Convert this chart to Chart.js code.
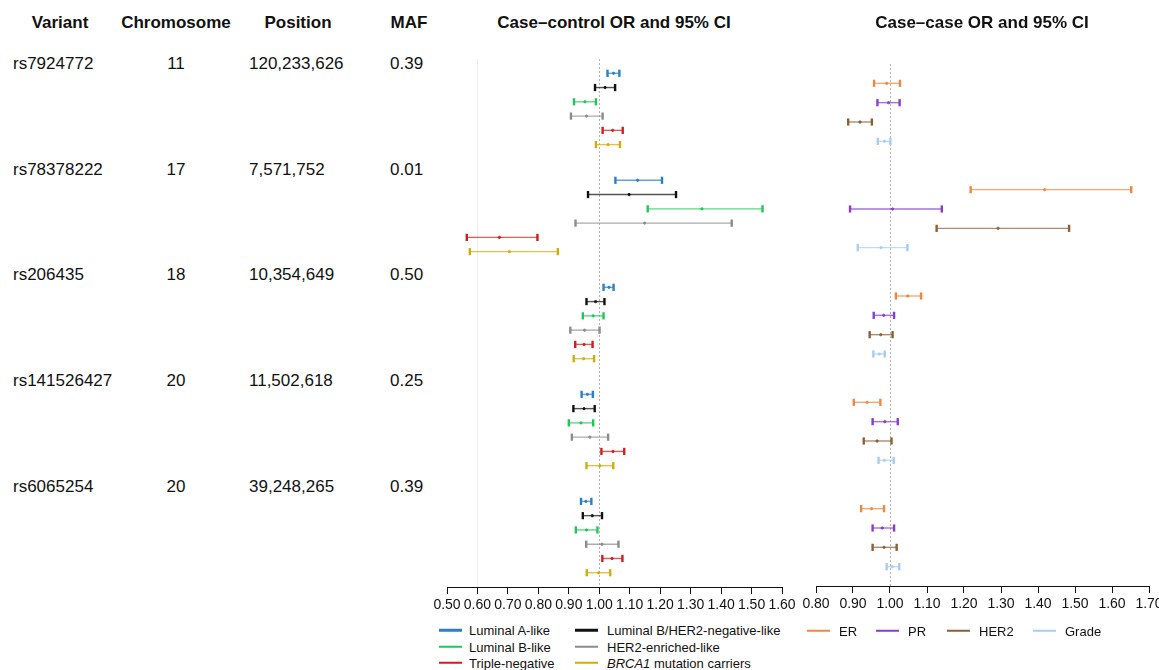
<!DOCTYPE html>
<html><head><meta charset="utf-8">
<script src="https://cdn.jsdelivr.net/npm/chart.js@4.4.1/dist/chart.umd.min.js"></script>
<style>
html,body{margin:0;padding:0;background:#fff;overflow:hidden;}
#root{position:relative;width:1159px;height:670px;overflow:hidden;font-family:"Liberation Sans",Arial,Helvetica,sans-serif;color:#111;}
.t{position:absolute;white-space:nowrap;line-height:1;}
.hd{font-weight:bold;font-size:17px;transform:translate(-50%,-50%);}
.cell{font-size:17px;transform:translateY(-50%);}
.cen{transform:translate(-50%,-50%);}
canvas{position:absolute;}
.lgline{position:absolute;height:2.5px;width:23px;transform:translateY(-50%);}
.lgtext{font-size:13px;transform:translateY(-50%);}
</style></head>
<body><div id="root">
<canvas id="cc" width="375" height="578" style="left:427px;top:39px;width:375px;height:578px;"></canvas>
<canvas id="cs" width="373" height="572" style="left:796px;top:44px;width:373px;height:572px;"></canvas>
</div>
<script>
// ---------- table data ----------
const variants = ['rs7924772','rs78378222','rs206435','rs141526427','rs6065254'];
const chromosomes = ['11','17','18','20','20'];
const positions = ['120,233,626','7,571,752','10,354,649','11,502,618','39,248,265'];
const mafs = ['0.39','0.01','0.50','0.25','0.39'];
const tableHeaders = ['Variant','Chromosome','Position','MAF'];
const panelTitles = ['Case\u2013control OR and 95% CI','Case\u2013case OR and 95% CI'];

// ---------- case-control series (per variant: lower CI, OR, upper CI) ----------
const ccNames = ['Luminal A-like','Luminal B/HER2-negative-like','Luminal B-like','HER2-enriched-like','Triple-negative','BRCA1 mutation carriers'];
const lumA_LO = [1.027,1.053,1.014,0.942,0.940];
const lumA_OR = [1.047,1.126,1.032,0.961,0.956];
const lumA_HI = [1.066,1.206,1.047,0.979,0.974];
const lumBneg_LO = [0.986,0.963,0.958,0.915,0.946];
const lumBneg_OR = [1.019,1.098,0.988,0.950,0.977];
const lumBneg_HI = [1.052,1.252,1.017,0.985,1.009];
const lumB_LO = [0.917,1.159,0.946,0.900,0.923];
const lumB_OR = [0.953,1.337,0.980,0.940,0.958];
const lumB_HI = [0.989,1.536,1.014,0.980,0.994];
const her2e_LO = [0.907,0.922,0.905,0.910,0.957];
const her2e_OR = [0.958,1.149,0.952,0.969,1.009];
const her2e_HI = [1.011,1.435,1.001,1.029,1.063];
const tn_LO = [1.011,0.565,0.921,1.007,1.010];
const tn_OR = [1.044,0.672,0.950,1.045,1.042];
const tn_HI = [1.077,0.797,0.978,1.082,1.076];
const brca1_LO = [0.989,0.575,0.916,0.958,0.959];
const brca1_OR = [1.029,0.705,0.949,1.002,0.998];
const brca1_HI = [1.068,0.864,0.983,1.046,1.036];

// ---------- case-case series ----------
const csNames = ['ER','PR','HER2','Grade'];
const er_LO = [0.957,1.218,1.016,0.902,0.922];
const er_OR = [0.991,1.418,1.048,0.938,0.950];
const er_HI = [1.027,1.652,1.084,0.974,0.984];
const pr_LO = [0.966,0.892,0.956,0.953,0.953];
const pr_OR = [0.996,1.007,0.983,0.986,0.979];
const pr_HI = [1.026,1.140,1.011,1.021,1.011];
const her2_LO = [0.887,1.126,0.945,0.929,0.953];
const her2_OR = [0.919,1.292,0.975,0.965,0.984];
const her2_HI = [0.951,1.484,1.007,1.004,1.018];
const grade_LO = [0.967,0.913,0.955,0.969,0.991];
const grade_OR = [0.985,0.976,0.971,0.985,1.006];
const grade_HI = [1.001,1.047,0.986,1.010,1.025];

// ---------- axis ticks ----------
const ccTicks = [0.5,0.6,0.7,0.8,0.9,1.0,1.1,1.2,1.3,1.4,1.5,1.6];
const csTicks = [0.8,0.9,1.0,1.1,1.2,1.3,1.4,1.5,1.6,1.7];

// ---------- styles ----------
const ccColors = [[40,128,200],[17,17,17],[30,200,85],[140,140,140],[208,30,30],[212,172,10]];
const csColors = [[240,135,65],[135,60,210],[140,95,55],[165,205,245]];
const FONT = '"Liberation Sans", Arial, Helvetica, sans-serif';

const ccSeries = [[lumA_LO,lumA_OR,lumA_HI],[lumBneg_LO,lumBneg_OR,lumBneg_HI],[lumB_LO,lumB_OR,lumB_HI],[her2e_LO,her2e_OR,her2e_HI],[tn_LO,tn_OR,tn_HI],[brca1_LO,brca1_OR,brca1_HI]];
const csSeries = [[er_LO,er_OR,er_HI],[pr_LO,pr_OR,pr_HI],[her2_LO,her2_OR,her2_HI],[grade_LO,grade_OR,grade_HI]];

const rgba = (c,a) => `rgba(${c[0]},${c[1]},${c[2]},${a})`;

function buildData(s, idx, step){
  const pts = [];
  for (let v = 0; v < variants.length; v++){
    const y = v*step + idx;
    pts.push({x:s[0][v], y}, {x:s[1][v], y}, {x:s[2][v], y});
  }
  return pts;
}

function makeDatasets(series, names, colors, step){
  return series.map((s,i) => ({
    label: names[i],
    data: buildData(s, i, step),
    showLine: true,
    borderColor: rgba(colors[i], 0.72),
    borderWidth: 1.4,
    segment: { borderColor: ctx => (ctx.p0DataIndex % 3 === 2) ? 'rgba(0,0,0,0)' : undefined },
    pointStyle: ctx => (ctx.dataIndex % 3 === 1) ? 'circle' : 'line',
    pointRotation: 90,
    pointRadius: ctx => (ctx.dataIndex % 3 === 1) ? 1.2 : 3.6,
    pointHoverRadius: ctx => (ctx.dataIndex % 3 === 1) ? 1.2 : 3.6,
    pointBorderWidth: ctx => (ctx.dataIndex % 3 === 1) ? 0.8 : 2.4,
    pointBorderColor: rgba(colors[i], 1),
    pointBackgroundColor: rgba(colors[i], 1)
  }));
}

const refLinePlugin = {
  id: 'refLines',
  beforeDatasetsDraw(chart, args, opts){
    const {ctx, chartArea, scales:{x}} = chart;
    (opts.lines || []).forEach(l => {
      const px = Math.round(x.getPixelForValue(l.value)) + 0.5;
      ctx.save();
      ctx.strokeStyle = l.color; ctx.lineWidth = 1; ctx.setLineDash(l.dash || []);
      ctx.beginPath(); ctx.moveTo(px, chartArea.top); ctx.lineTo(px, chartArea.bottom); ctx.stroke();
      ctx.restore();
    });
  }
};

function makeChart(id, datasets, ticks, yMax, lines){
  return new Chart(document.getElementById(id), {
    type: 'scatter',
    data: { datasets },
    plugins: [refLinePlugin],
    options: {
      responsive: false, maintainAspectRatio: false, animation: false,
      layout: { padding: { left: 20, right: 20, top: 20, bottom: 0 } },
      plugins: { legend: { display: false }, tooltip: { enabled: false }, refLines: { lines } },
      scales: {
        x: {
          type: 'linear', min: ticks[0], max: ticks[ticks.length-1],
          afterBuildTicks: sc => { sc.ticks = ticks.map(v => ({value: v})); },
          afterFit: sc => { sc.height = 30; },
          ticks: { autoSkip: false, maxRotation: 0, minRotation: 0, padding: 3, color: '#111',
                   font: { family: FONT, size: 14 }, callback: v => Number(v).toFixed(2) },
          grid: { drawOnChartArea: false, drawTicks: true, tickLength: 7, color: '#111', lineWidth: 1 },
          border: { display: true, color: '#111', width: 1 }
        },
        y: { type: 'linear', min: -1, max: yMax, reverse: true, display: false }
      }
    }
  });
}

makeChart('cc', makeDatasets(ccSeries, ccNames, ccColors, 7.5), ccTicks, 36,
  [{value: 0.6, color: 'rgba(0,0,0,0.07)'}, {value: 1.0, color: '#b4b4b4', dash: [2,2]}]);
makeChart('cs', makeDatasets(csSeries, csNames, csColors, 5.5), csTicks, 26,
  [{value: 1.0, color: '#b4b4b4', dash: [2,2]}]);

// ---------- HTML text: table, titles, legends ----------
const root = document.getElementById('root');
function addText(txt, cls, x, y, extra){
  const d = document.createElement('div');
  d.className = 't ' + cls;
  d.style.left = x + 'px'; d.style.top = y + 'px';
  if (extra) Object.assign(d.style, extra);
  d.innerHTML = txt;
  root.appendChild(d);
  return d;
}
const headerX = [60, 176, 298, 409];
tableHeaders.forEach((h,i) => addText(h, 'hd', headerX[i], 22));
addText(panelTitles[0], 'hd', 614, 22);
addText(panelTitles[1], 'hd', 982, 22);
variants.forEach((v,i) => {
  const y = 62.7 + i*105.8;
  addText(v, 'cell', 13, y);
  addText(chromosomes[i], 'cell cen', 176, y, {transform:'translate(-50%,-50%)'});
  addText(positions[i], 'cell', 249, y);
  addText(mafs[i], 'cell', 390, y);
});

function legendItem(name, color, lx, tx, y){
  const l = document.createElement('div');
  l.className = 'lgline';
  l.style.left = lx + 'px'; l.style.top = y + 'px'; l.style.background = rgba(color, 1);
  root.appendChild(l);
  const label = name.startsWith('BRCA1') ? '<i>BRCA1</i>' + name.slice(5) : name;
  addText(label, 'lgtext', tx, y);
}
const ccLegPos = [[439,469,630],[575,607,630],[439,469,646.7],[575,607,646.7],[439,469,662.7],[575,607,662.7]];
ccNames.forEach((n,i) => legendItem(n, ccColors[i], ccLegPos[i][0], ccLegPos[i][1], ccLegPos[i][2]));
const csLegPos = [[807,839],[876,908],[947,979],[1033,1065]];
csNames.forEach((n,i) => legendItem(n, csColors[i], csLegPos[i][0], csLegPos[i][1], 630.5));
</script>
</body></html>
